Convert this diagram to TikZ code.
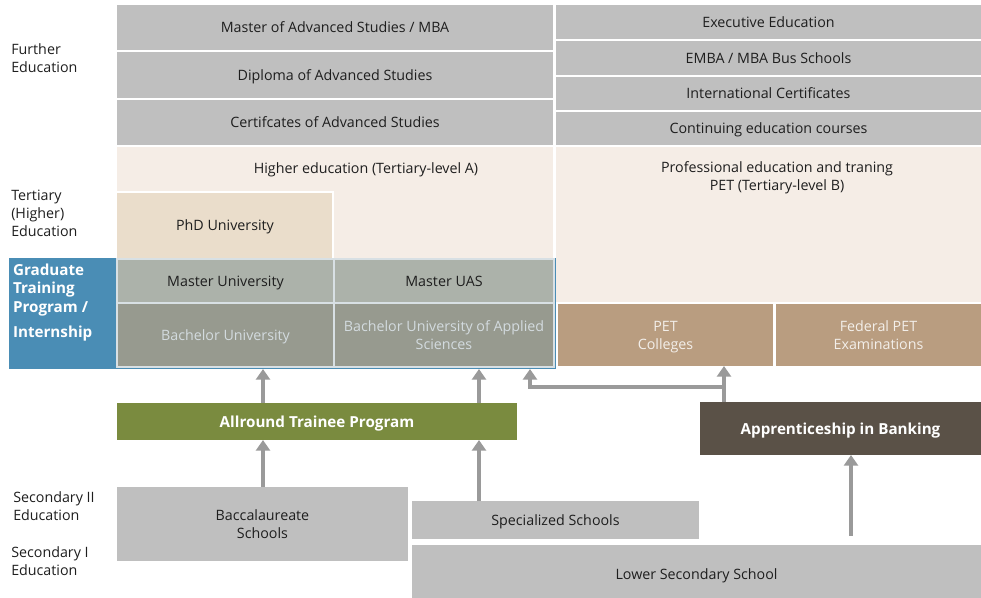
\documentclass[tikz,border=0pt]{standalone}
\usepackage{fontspec}
\setmainfont{Open Sans}
\usetikzlibrary{arrows.meta}
\definecolor{gbox}{HTML}{BFBFBF}
\definecolor{lbeige}{HTML}{F5EDE6}
\definecolor{phdc}{HTML}{EADDCB}
\definecolor{gblue}{HTML}{4A8DB5}
\definecolor{mcell}{HTML}{ACB2AA}
\definecolor{bcell}{HTML}{979A8F}
\definecolor{btxt}{HTML}{D3DBDF}
\definecolor{petc}{HTML}{B99D80}
\definecolor{pettxt}{HTML}{F3EFEA}
\definecolor{green}{HTML}{7A8B3F}
\definecolor{dbrown}{HTML}{5A5147}
\definecolor{agray}{HTML}{9A9A9A}
\definecolor{txt}{HTML}{1E1E1E}
\definecolor{sepc}{HTML}{D8E0E4}
\newcommand\mybox[7]{%
  \pgfmathsetmacro\mbcx{(#2+#4)/2}%
  \pgfmathsetmacro\mbcy{(#3+#5)/2}%
  \pgfmathsetmacro\mbw{(#4-#2)*0.75}%
  \pgfmathsetmacro\mbh{(#5-#3)*0.75}%
  \node[box,#6,minimum width=\mbw pt,minimum height=\mbh pt] (#1) at (\mbcx,\mbcy) {#7};}
\begin{document}
\begin{tikzpicture}[x=0.75pt,y=-0.75pt,
  box/.style={inner sep=0pt,outer sep=0pt,align=center,text=txt,text depth=0pt,font=\fontsize{10.7}{13.5}\selectfont},
  gray/.style={fill=gbox},
  lab/.style={inner sep=0pt,align=left,text=txt,anchor=west,font=\fontsize{10.7}{13.5}\selectfont},
  cellm/.style={fill=mcell,draw=sepc,line width=1.2pt},
  cellb/.style={fill=bcell,draw=sepc,line width=1.2pt,text=btxt},
  pet/.style={fill=petc,text=pettxt},
  bold/.style={text=white,font=\bfseries\fontsize{11.4}{13.8}\selectfont},
  arr/.style={draw=agray,line width=3pt,-{Triangle[length=8pt,width=10.5pt]}}]
\useasboundingbox (0,0) rectangle (981,597);
% further education
\mybox{mas}{117}{5}{553}{50}{gray}{Master of Advanced Studies / MBA}
\mybox{das}{117}{52}{553}{98}{gray}{Diploma of Advanced Studies}
\mybox{cas}{117}{100}{553}{145}{gray}{Certifcates of Advanced Studies}
\mybox{exe}{556}{5}{981}{39}{gray}{Executive Education}
\mybox{emba}{556}{41}{981}{75}{gray}{EMBA / MBA Bus Schools}
\mybox{intc}{556}{77}{981}{110}{gray}{International Certificates}
\mybox{cont}{556}{112}{981}{145}{gray}{Continuing education courses}
% tertiary
\mybox{hea}{117}{147}{553}{258}{fill=lbeige}{}
\node[box] (heatxt) at (366,168) {Higher education (Tertiary-level A)};
\mybox{petb}{556}{147}{981}{302}{fill=lbeige}{}
\node[box] (petbtxt) at (777,176) {Professional education and traning\\PET (Tertiary-level B)};
\mybox{phd}{117}{192}{333}{258}{fill=phdc}{PhD University}
\draw[white,line width=1.2pt] (phd.south east) -- (phd.north east) -- (phd.north west);
% graduate training block
\mybox{gtp}{9}{258}{556}{369}{fill=gblue}{}
\node[box,bold,anchor=north west,align=left] (gtptxt) at (13,264) {Graduate\\Training\\Program /\\[5pt]Internship};
\mybox{mu}{117}{259}{334}{303}{cellm}{Master University}
\mybox{mua}{334}{259}{554}{303}{cellm}{Master UAS}
\mybox{bu}{117}{303}{334}{367}{cellb}{Bachelor University}
\mybox{bua}{334}{303}{554}{367}{cellb}{Bachelor University of Applied\\Sciences}
\mybox{petcol}{558}{304}{773}{366}{pet}{PET\\Colleges}
\mybox{fpet}{776}{304}{981}{366}{pet}{Federal PET\\Examinations}
% programs
\mybox{atp}{117}{403}{517}{440}{fill=green,bold}{Allround Trainee Program}
\mybox{aib}{700}{402}{981}{455}{fill=dbrown,bold}{Apprenticeship in Banking}
% secondary
\mybox{bac}{117}{487}{408}{561}{gray}{Baccalaureate\\Schools}
\mybox{spec}{412}{501}{699}{539}{gray}{Specialized Schools}
\mybox{lss}{412}{545}{981}{603}{gray}{Lower Secondary School}
% left labels
\node[lab] (lfe) at (11,58) {Further\\Education};
\node[lab] (lte) at (11,213) {Tertiary\\(Higher)\\Education};
\node[lab] (ls2) at (13,506) {Secondary II\\Education};
\node[lab] (ls1) at (11,561) {Secondary I\\Education};
% arrows
\coordinate (xa) at (263,0);
\coordinate (xb) at (479,0);
\coordinate (xc) at (851,0);
\coordinate (xd) at (724,0);
\coordinate (xe) at (530,0);
\draw[arr] (atp.north -| xa) -- (gtp.south -| xa);
\draw[arr] (atp.north -| xb) -- (gtp.south -| xb);
\draw[arr] (bac.north -| xa) -- (atp.south -| xa);
\draw[arr] (spec.north -| xb) -- (atp.south -| xb);
\draw[arr,shorten <=7pt] (lss.north -| xc) -- (aib.south -| xc);
\draw[arr] (aib.north -| xd) -- (petcol.south -| xd);
\draw[arr] (aib.north -| xd) -- ++(0,-15) -| (gtp.south -| xe);
\end{tikzpicture}
\end{document}
